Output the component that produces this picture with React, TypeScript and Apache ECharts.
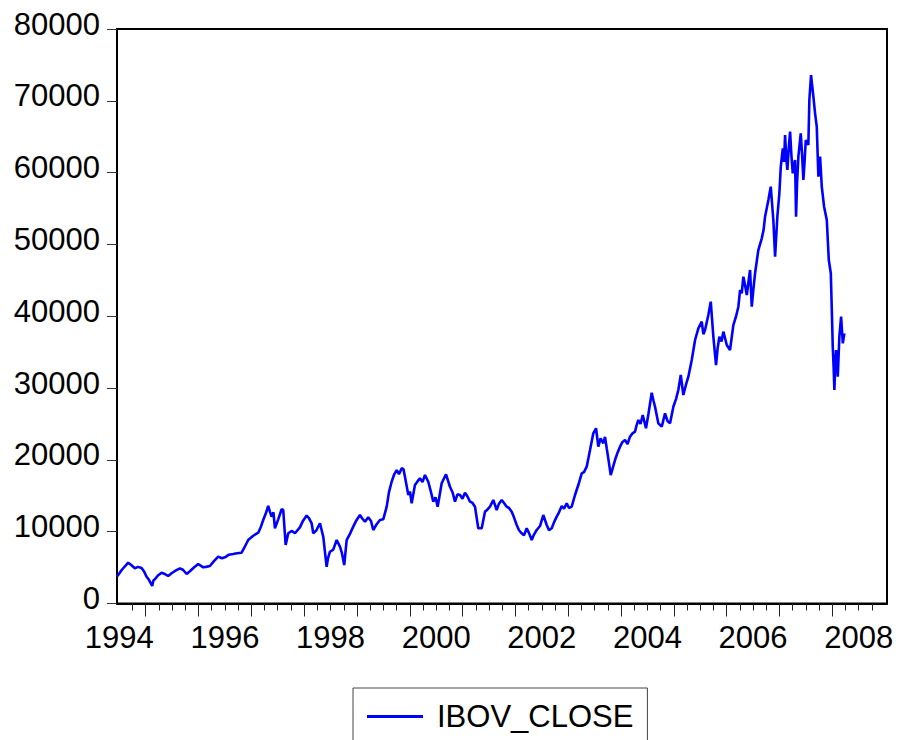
import React, { useEffect, useRef } from "react";
import * as echarts from "echarts";

// Axis time (decimal years as labelled on the chart's axis)
const times: number[] = [
  1994.455, 1994.479, 1994.549, 1994.669, 1994.720, 1994.795, 1994.852, 1994.922, 1994.966, 1995.017,
  1995.061, 1995.123, 1995.146, 1995.174, 1995.231, 1995.301, 1995.364, 1995.426, 1995.496, 1995.572,
  1995.648, 1995.705, 1995.775, 1995.837, 1995.913, 1995.994, 1996.089, 1996.140, 1996.216, 1996.292,
  1996.373, 1996.443, 1996.500, 1996.576, 1996.657, 1996.727, 1996.816, 1996.869, 1996.941, 1997.030,
  1997.131, 1997.182, 1997.225, 1997.277, 1997.320, 1997.352, 1997.384, 1997.419, 1997.447, 1997.509,
  1997.574, 1997.604, 1997.650, 1997.699, 1997.769, 1997.826, 1997.920, 1997.977, 1998.047, 1998.091,
  1998.142, 1998.172, 1998.233, 1998.299, 1998.362, 1998.394, 1998.426, 1998.451, 1998.489, 1998.551,
  1998.616, 1998.678, 1998.716, 1998.759, 1998.805, 1998.867, 1998.930, 1998.991, 1999.057, 1999.104,
  1999.152, 1999.214, 1999.265, 1999.309, 1999.369, 1999.436, 1999.498, 1999.563, 1999.606, 1999.657,
  1999.701, 1999.752, 1999.795, 1999.847, 1999.881, 1999.909, 1999.972, 2000.004, 2000.036, 2000.098,
  2000.146, 2000.193, 2000.241, 2000.288, 2000.350, 2000.402, 2000.445, 2000.487, 2000.528, 2000.604,
  2000.686, 2000.761, 2000.809, 2000.856, 2000.903, 2000.951, 2000.998, 2001.045, 2001.093, 2001.140,
  2001.188, 2001.235, 2001.297, 2001.362, 2001.424, 2001.472, 2001.519, 2001.581, 2001.646, 2001.689,
  2001.741, 2001.784, 2001.835, 2001.879, 2001.930, 2001.973, 2002.025, 2002.068, 2002.119, 2002.163,
  2002.214, 2002.258, 2002.309, 2002.352, 2002.403, 2002.466, 2002.528, 2002.593, 2002.636, 2002.688,
  2002.731, 2002.782, 2002.826, 2002.877, 2002.920, 2002.972, 2003.015, 2003.066, 2003.129, 2003.191,
  2003.256, 2003.299, 2003.350, 2003.384, 2003.413, 2003.475, 2003.527, 2003.570, 2003.612, 2003.665,
  2003.697, 2003.729, 2003.763, 2003.805, 2003.848, 2003.886, 2003.934, 2003.981, 2004.028, 2004.076,
  2004.123, 2004.170, 2004.218, 2004.265, 2004.294, 2004.328, 2004.369, 2004.411, 2004.473, 2004.521,
  2004.581, 2004.616, 2004.644, 2004.706, 2004.771, 2004.833, 2004.881, 2004.928, 2004.991, 2005.042,
  2005.085, 2005.131, 2005.180, 2005.231, 2005.275, 2005.339, 2005.402, 2005.464, 2005.528, 2005.559,
  2005.591, 2005.653, 2005.699, 2005.748, 2005.799, 2005.828, 2005.862, 2005.903, 2005.938, 2006.002,
  2006.064, 2006.127, 2006.178, 2006.222, 2006.254, 2006.286, 2006.316, 2006.348, 2006.381, 2006.443,
  2006.475, 2006.509, 2006.538, 2006.600, 2006.665, 2006.699, 2006.727, 2006.790, 2006.835, 2006.884,
  2006.917, 2006.960, 2006.998, 2007.025, 2007.063, 2007.087, 2007.106, 2007.129, 2007.150, 2007.176,
  2007.201, 2007.225, 2007.252, 2007.295, 2007.314, 2007.333, 2007.358, 2007.403, 2007.428, 2007.453,
  2007.475, 2007.498, 2007.547, 2007.566, 2007.598, 2007.621, 2007.642, 2007.674, 2007.706, 2007.737,
  2007.769, 2007.801, 2007.845, 2007.896, 2007.934, 2007.972, 2007.991, 2008.009, 2008.025, 2008.040,
  2008.057, 2008.072, 2008.091, 2008.104, 2008.134, 2008.167, 2008.199, 2008.229,
];

const ibovClose: number[] = [
  3800, 3970, 4700, 5680, 5400, 4900, 5100, 4940, 4500, 3730,
  3300, 2440, 3200, 3370, 3900, 4290, 4100, 3830, 4250, 4600,
  4900, 4700, 4110, 4500, 5000, 5500, 5040, 5100, 5220, 5900,
  6520, 6300, 6430, 6800, 6890, 7000, 7070, 7800, 8840, 9400,
  9860, 10700, 11630, 12600, 13580, 12800, 12090, 12700, 10470, 11720,
  13120, 13020, 8150, 9780, 10100, 9780, 10600, 11500, 12250, 11900,
  11170, 9780, 10200, 11170, 9300, 7200, 5120, 6300, 7210, 7500,
  8840, 7910, 7000, 5360, 8840, 9700, 10700, 11600, 12320, 11800,
  11390, 12000, 11500, 10230, 11000, 11630, 11720, 13480, 15500, 16960,
  17900, 18590, 18000, 18830, 18700, 17660, 15110, 15600, 13950, 16500,
  17000, 17430, 16900, 17890, 16960, 15500, 14180, 14800, 13480, 16740,
  17990, 16260, 15500, 14180, 15200, 15110, 14600, 15430, 14900, 14180,
  14000, 13480, 10470, 10470, 12780, 13100, 13480, 14410, 13020, 13900,
  14410, 14000, 13480, 13300, 12780, 12000, 10930, 10200, 9780, 9500,
  10470, 9800, 8840, 9600, 10230, 10790, 12320, 10930, 10200, 10470,
  11300, 12090, 12700, 13580, 13200, 13950, 13300, 13480, 15110, 16500,
  18130, 18300, 19050, 20300, 21380, 23700, 24400, 21840, 23000, 22310,
  23200, 21610, 20000, 17890, 19000, 19980, 21000, 21840, 22500, 22770,
  22200, 23230, 23700, 23930, 24800, 25550, 25000, 26250, 24400, 26500,
  29350, 28200, 27400, 25090, 24620, 26480, 25400, 25090, 27400, 28500,
  29730, 31820, 29030, 30500, 31580, 33910, 36690, 38320, 39240, 37500,
  38090, 40170, 42030, 37150, 33210, 35500, 37150, 36500, 37850, 36000,
  35300, 38780, 40000, 41330, 43650, 43200, 45510, 44350, 42960, 46440,
  41330, 44000, 45980, 49220, 50850, 52000, 53860, 56190, 58040, 53400,
  48290, 53860, 57120, 60830, 63390, 61500, 65240, 62000, 60370, 63500,
  65700, 62500, 59900, 61760, 53860, 58500, 62220, 65480, 62500, 58970,
  61500, 64540, 63850, 70110, 73590, 72000, 70570, 68260, 66400, 59440,
  62220, 58040, 55250, 53400, 47830, 45980, 40870, 35760, 33000, 29730,
  33500, 35300, 33500, 31580, 37150, 39940, 36230, 37620,
];

const yearLabels: number[] = [1994, 1996, 1998, 2000, 2002, 2004, 2006, 2008];
const majorTickYears: number[] = [1995, 1996, 1997, 1998, 1999, 2000, 2001, 2002, 2003, 2004, 2005, 2006, 2007, 2008];
const minorTickYears: number[] = (() => {
  const out: number[] = [];
  for (let y = 1994; y <= 2008; y++) {
    for (const q of [0.25, 0.5, 0.75]) {
      const v = y + q;
      if (v > 1994.6 && v < 2009) out.push(v);
    }
  }
  return out;
})();

const X_MIN = 1994.4566;
const X_MAX = 2009.036;
const FONT = "'Liberation Sans', Arial, Helvetica, sans-serif";

export default function App() {
  const ref = useRef<HTMLDivElement>(null);
  useEffect(() => {
    if (!ref.current) return;
    const chart = echarts.init(ref.current, undefined, { renderer: "svg" });
    chart.setOption({
      animation: false,
      backgroundColor: "#ffffff",
      grid: {
        left: 117,
        top: 29,
        width: 770,
        height: 574.5,
        show: true,
        borderColor: "#000000",
        borderWidth: 2,
        backgroundColor: "transparent",
        containLabel: false,
      },
      legend: {
        data: [{ name: "IBOV_CLOSE", icon: "rect" }],
        left: 353,
        top: 688,
        orient: "horizontal",
        itemWidth: 56,
        itemHeight: 3,
        padding: [13, 14, 30, 14],
        borderColor: "#444444",
        borderWidth: 1,
        textStyle: {
          fontFamily: FONT,
          fontSize: 31,
          color: "#000000",
          padding: [0, 0, 0, 9],
        },
      },
      xAxis: [
        {
          type: "value",
          min: X_MIN,
          max: X_MAX,
          position: "bottom",
          axisLine: { show: true, onZero: false, lineStyle: { color: "#000", width: 2 } },
          splitLine: { show: false },
          axisTick: {
            show: true,
            inside: false,
            length: 13,
            customValues: majorTickYears,
            lineStyle: { color: "#222", width: 1 },
          },
          axisLabel: {
            show: true,
            customValues: yearLabels.map((y) => y + 0.5),
            formatter: (v: number) => String(Math.floor(v)),
            fontFamily: FONT,
            fontSize: 31,
            color: "#000000",
            margin: 18,
          },
        },
        {
          type: "value",
          min: X_MIN,
          max: X_MAX,
          position: "bottom",
          axisLine: { show: false, onZero: false },
          splitLine: { show: false },
          axisTick: {
            show: true,
            inside: false,
            length: 7,
            customValues: minorTickYears,
            lineStyle: { color: "#222", width: 1 },
          },
          axisLabel: { show: false },
        },
      ],
      yAxis: {
        type: "value",
        min: 0,
        max: 80000,
        interval: 10000,
        axisLine: { show: true, lineStyle: { color: "#000", width: 2 } },
        splitLine: { show: false },
        axisTick: { show: true, inside: false, length: 10, lineStyle: { color: "#333", width: 1 } },
        axisLabel: {
          formatter: (v: number) => String(v),
          fontFamily: FONT,
          fontSize: 31,
          color: "#000000",
          margin: 17,
          verticalAlign: "bottom",
          lineHeight: 10,
        },
      },
      series: [
        {
          name: "IBOV_CLOSE",
          type: "line",
          xAxisIndex: 0,
          showSymbol: false,
          symbol: "none",
          lineStyle: { color: "#0000ff", width: 2.6 },
          itemStyle: { color: "#0000ff" },
          data: times.map((t, i) => [t, ibovClose[i]]),
        },
      ],
    });
    return () => chart.dispose();
  }, []);
  return (
    <div
      ref={ref}
      style={{ position: "fixed", left: 0, top: 0, width: 898, height: 740, background: "#fff" }}
    />
  );
}
